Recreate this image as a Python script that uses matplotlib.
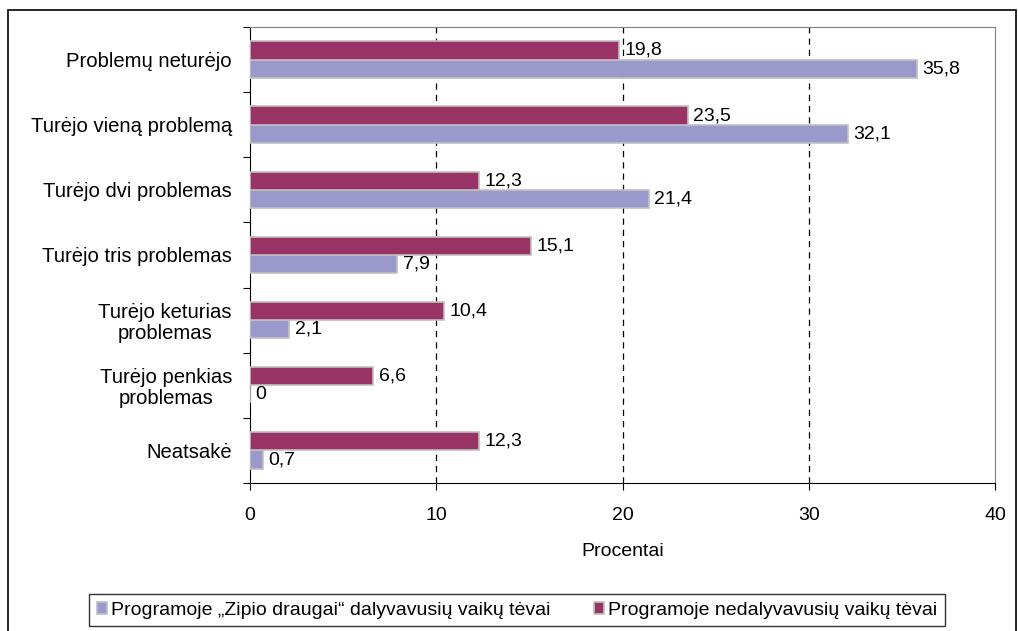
import matplotlib.pyplot as plt
from matplotlib.patches import Rectangle
import numpy as np

plt.rcParams['font.family'] = ['Liberation Sans', 'DejaVu Sans']

# Data
categories = ['Problemų neturėjo', 'Turėjo vieną problemą', 'Turėjo dvi problemas',
              'Turėjo tris problemas', 'Turėjo keturias\nproblemas',
              'Turėjo penkias\nproblemas', 'Neatsakė']
zipio = [35.8, 32.1, 21.4, 7.9, 2.1, 0, 0.7]
nedalyvave = [19.8, 23.5, 12.3, 15.1, 10.4, 6.6, 12.3]
labels = ['Programoje „Zipio draugai“ dalyvavusių vaikų tėvai',
          'Programoje nedalyvavusių vaikų tėvai']

fs = 14

fig = plt.figure(figsize=(10.18, 6.31), dpi=100)
ax = fig.add_axes([0.2456, 0.2346, 0.7318, 0.7226])

# outer frame
fig.patches.append(Rectangle((8 / 1018, -0.01), 1008 / 1018, 1 - 10 / 631 + 0.01,
                             transform=fig.transFigure, fill=False,
                             edgecolor='black', linewidth=1.2))

y = np.arange(len(categories))
h = 0.28
b1 = ax.barh(y + h / 2, zipio, height=h, color='#9999cc', edgecolor='#c0c0c0',
             linewidth=1.2, label=labels[0], zorder=3)
b2 = ax.barh(y - h / 2, nedalyvave, height=h, color='#993366', edgecolor='#c0c0c0',
             linewidth=1.2, label=labels[1], zorder=3)

for bars, vals in ((b1, zipio), (b2, nedalyvave)):
    for bar, v in zip(bars, vals):
        ax.text(bar.get_width() + 0.3, bar.get_y() + bar.get_height() / 2,
                f'{v:g}'.replace('.', ','), va='center', ha='left', fontsize=fs)

ax.set_xlim(0, 40)
ax.set_ylim(len(categories) - 0.5, -0.5)
ax.set_xticks([0, 10, 20, 30, 40])
ax.tick_params(axis='x', labelsize=fs, direction='out', length=5, pad=12)
ax.set_yticks(np.arange(len(categories) + 1) - 0.5, minor=False)
ax.set_yticklabels([])
ax.set_yticks(y, minor=True)
ax.set_yticklabels(categories, minor=True, fontsize=14.6, ha='right',
                   multialignment='center', linespacing=1.1)
ax.tick_params(axis='y', which='minor', length=0, pad=13)
ax.tick_params(axis='y', which='major', direction='out', length=5)
ax.set_xlabel('Procentai', fontsize=fs, labelpad=14)

for xv in (10, 20, 30):
    ax.axvline(xv, color='black', linewidth=0.9, dashes=(5, 4), zorder=1)

for s in ('top', 'right'):
    ax.spines[s].set_color('#808080')
for s in ('left', 'bottom'):
    ax.spines[s].set_color('black')

leg = fig.legend(handles=[b1, b2], loc='center', bbox_to_anchor=(0.508, 0.033),
                 ncol=2, fontsize=fs, frameon=True, fancybox=False,
                 edgecolor='black', handlelength=0.55, handleheight=0.55,
                 handletextpad=0.2, columnspacing=2.2, borderpad=0.4,
                 borderaxespad=0)
leg.get_frame().set_linewidth(1.0)
for p in leg.get_patches():
    p.set_edgecolor('#c0c0c0')

fig.savefig('out.png', dpi=100)
